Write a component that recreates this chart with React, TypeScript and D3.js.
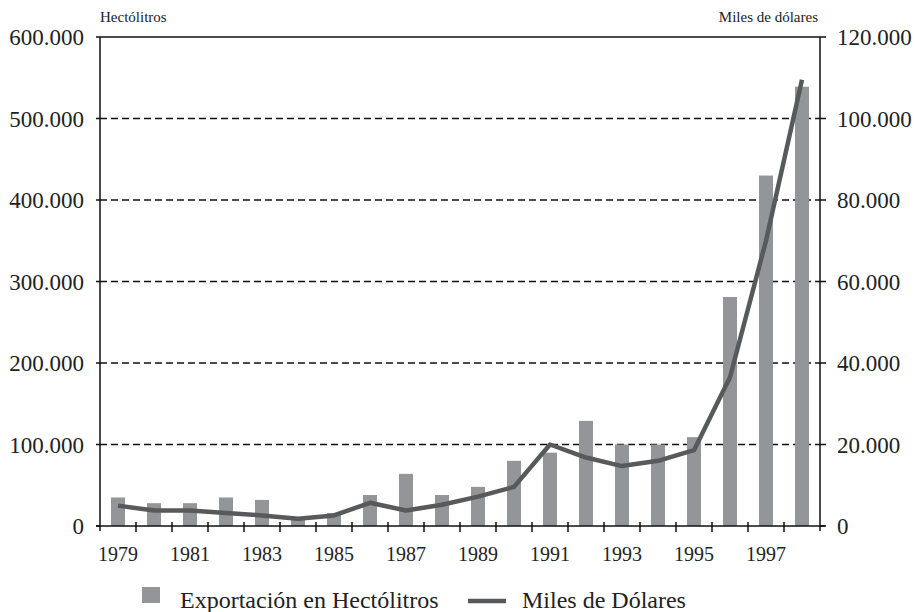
import React from "react";
import * as d3 from "d3";

const years = [
  "1979","1980","1981","1982","1983","1984","1985","1986","1987","1988",
  "1989","1990","1991","1992","1993","1994","1995","1996","1997","1998",
];
const hectolitros = [
  35000, 28000, 28000, 35000, 32000, 10000, 16000, 38000, 64000, 38000,
  48000, 80000, 90000, 129000, 100000, 100000, 109000, 281000, 430000, 539000,
];
const milesDolares = [
  5000, 3800, 3800, 3200, 2600, 1800, 2600, 5700, 3800, 5200,
  7200, 9600, 20000, 16800, 14700, 16000, 18600, 36500, 70000, 109500,
];
const leftTicks = [0, 100000, 200000, 300000, 400000, 500000, 600000];
const rightTicks = [0, 20000, 40000, 60000, 80000, 100000, 120000];
const yearLabels = ["1979","1981","1983","1985","1987","1989","1991","1993","1995","1997"];

const fmt = (v: number) =>
  v === 0 ? "0" : d3.format(",")(v).replace(/,/g, ".");

export default function App() {
  const W = 915, H = 612;
  const left = 100, right = 820, top = 37, bottom = 526;
  const x = d3.scaleBand<string>().domain(years).range([left, right]).paddingInner(0).paddingOuter(0);
  const yL = d3.scaleLinear().domain([0, 600000]).range([bottom, top]);
  const yR = d3.scaleLinear().domain([0, 120000]).range([bottom, top]);
  const bw = 14;
  const serif = "'Liberation Serif', 'Times New Roman', serif";
  const line = d3
    .line<number>()
    .x((_, i) => (x(years[i]) as number) + x.bandwidth() / 2)
    .y((d) => yR(d));

  return (
    <svg width={W} height={H} style={{ position: "absolute", left: 0, top: 0, background: "#fff" }} fontFamily={serif}>
      {/* gridlines */}
      {leftTicks.filter((t) => t > 0 && t < 600000).map((t) => (
        <line key={"g" + t} x1={left} x2={right} y1={yL(t)} y2={yL(t)} stroke="#111" strokeWidth={1.3} strokeDasharray="7,4" />
      ))}
      {/* bars */}
      {hectolitros.map((v, i) => (
        <rect key={"b" + i} x={(x(years[i]) as number) + x.bandwidth() / 2 - bw / 2} y={yL(v)} width={bw} height={bottom - yL(v)} fill="#939598" />
      ))}
      {/* line */}
      <path d={line(milesDolares) || ""} fill="none" stroke="#58595b" strokeWidth={4.5} strokeLinejoin="round" />
      {/* frame */}
      <line x1={left} x2={right} y1={top} y2={top} stroke="#111" strokeWidth={1.5} />
      <line x1={left} x2={left} y1={top} y2={bottom + 5} stroke="#111" strokeWidth={1.5} />
      <line x1={right} x2={right} y1={top} y2={bottom + 5} stroke="#111" strokeWidth={1.5} />
      <line x1={left - 4} x2={right + 5} y1={bottom} y2={bottom} stroke="#111" strokeWidth={1.5} />
      {/* left ticks */}
      {leftTicks.map((t) => (
        <g key={"l" + t}>
          <line x1={left - 4} x2={left} y1={yL(t)} y2={yL(t)} stroke="#111" strokeWidth={1.5} />
          <text x={84} y={yL(t)} dy="0.35em" textAnchor="end" fontSize={23} fill="#222">{fmt(t)}</text>
        </g>
      ))}
      {/* right ticks */}
      {rightTicks.map((t) => (
        <g key={"r" + t}>
          <line x1={right} x2={right + 6} y1={yR(t)} y2={yR(t)} stroke="#111" strokeWidth={1.5} />
          <text x={837} y={yR(t)} dy="0.35em" textAnchor="start" fontSize={23} fill="#222">{fmt(t)}</text>
        </g>
      ))}
      {/* x ticks */}
      {years.slice(1).map((yr) => (
        <line key={"xt" + yr} x1={x(yr) as number} x2={x(yr) as number} y1={bottom - 4} y2={bottom + 6} stroke="#111" strokeWidth={1.5} />
      ))}
      {yearLabels.map((yr) => (
        <text key={"xl" + yr} x={(x(yr) as number) + x.bandwidth() / 2} y={561} textAnchor="middle" fontSize={20} fill="#222">{yr}</text>
      ))}
      {/* axis titles */}
      <text x={100} y={22} fontSize={15} fill="#222">Hectólitros</text>
      <text x={818} y={22} fontSize={15} fill="#222" textAnchor="end">Miles de dólares</text>
      {/* legend */}
      <rect x={142} y={587} width={18} height={16} fill="#939598" />
      <text x={180} y={608} fontSize={24} fill="#222">Exportación en Hectólitros</text>
      <line x1={468} x2={506} y1={601} y2={601} stroke="#58595b" strokeWidth={4.5} />
      <text x={522} y={608} fontSize={24} fill="#222">Miles de Dólares</text>
    </svg>
  );
}
